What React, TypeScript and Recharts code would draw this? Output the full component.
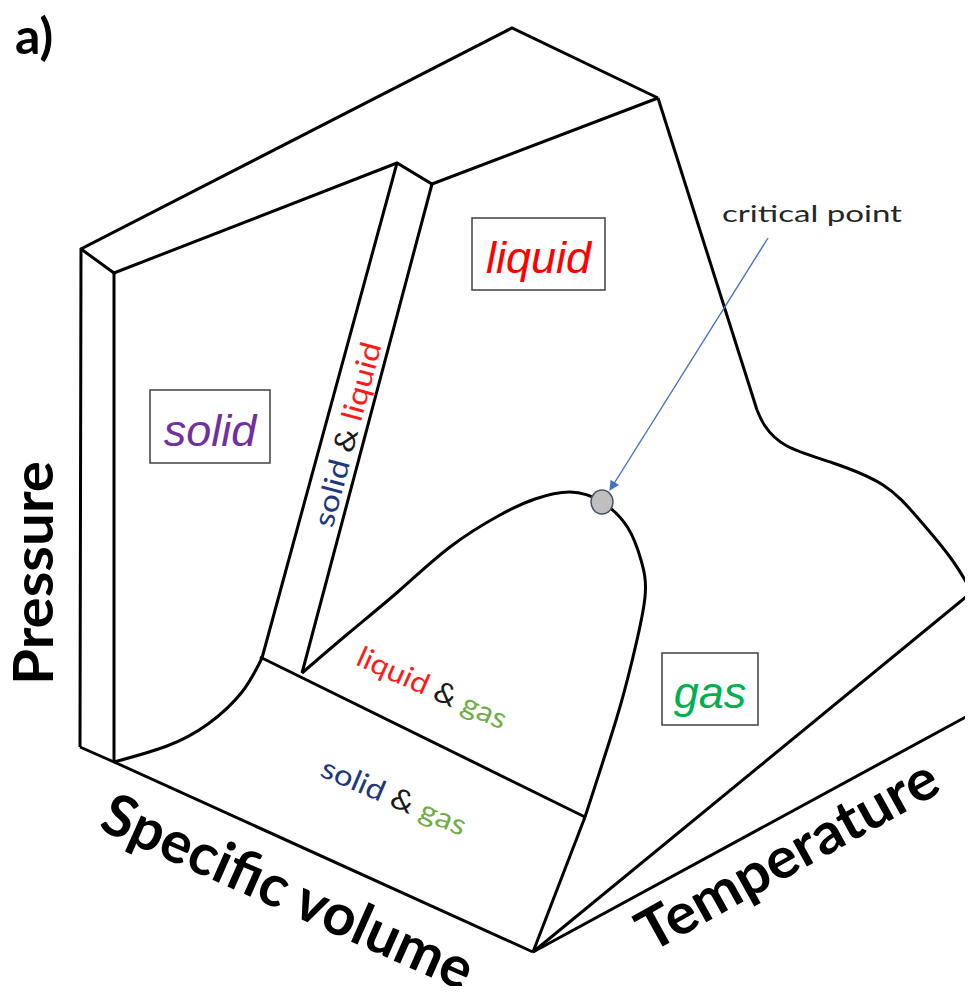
import { ComposedChart, Line, Scatter, XAxis, YAxis, ReferenceArea } from 'recharts';

const W = 973;
const H = 994;

// edges of the P-v-T surface (x right, y down)
const backRidge = [{ x: 80, y: 747 }, { x: 81, y: 249 }, { x: 512, y: 28 }, { x: 658, y: 98 }];
const frontRidge = [{ x: 81, y: 249 }, { x: 114, y: 273 }, { x: 397, y: 163 }, { x: 432, y: 184 }, { x: 658, y: 98 }];
const solidFace = [{ x: 114, y: 273 }, { x: 114, y: 762 }];
const volumeEdge = [{ x: 80, y: 747 }, { x: 114, y: 762 }, { x: 533, y: 952 }];
const meltingLine = [{ x: 397, y: 163 }, { x: 262, y: 658 }];
const freezingLine = [{ x: 432, y: 184 }, { x: 302, y: 673 }];
const solidCurve = [{ x: 262, y: 658 }, { x: 242, y: 692 }, { x: 208, y: 724 }, { x: 167, y: 746 }, { x: 114, y: 762 }];
const tripleLine = [{ x: 260, y: 657 }, { x: 585, y: 817 }];
const dome = [
  { x: 302, y: 673 }, { x: 350, y: 632 }, { x: 400, y: 590 }, { x: 450, y: 547 }, { x: 500, y: 515 },
  { x: 535, y: 499 }, { x: 570, y: 492 }, { x: 602, y: 502 }, { x: 628, y: 528 }, { x: 641, y: 560 },
  { x: 645, y: 597 }, { x: 633, y: 657 }, { x: 617, y: 717 }, { x: 585, y: 817 },
];
const gasEdge = [{ x: 585, y: 817 }, { x: 533, y: 952 }];
const vaporLine = [{ x: 658, y: 98 }, { x: 757, y: 410 }];
const vaporCurve = [
  { x: 757, y: 410 }, { x: 765, y: 426 }, { x: 787, y: 446 }, { x: 833, y: 463 }, { x: 883, y: 485 },
  { x: 917, y: 517 }, { x: 950, y: 557 }, { x: 972, y: 592 },
];
const tempUpper = [{ x: 533, y: 952 }, { x: 972, y: 592 }];
const tempLower = [{ x: 533, y: 952 }, { x: 973, y: 713 }];
const tempSide = [{ x: 972, y: 592 }, { x: 972, y: 713 }];

const criticalPoint = [{ x: 602, y: 502 }];
const pointer = [{ x: 768, y: 238 }, { x: 610, y: 490 }];

const phaseBoxes = [
  { name: 'solid', x1: 150, x2: 270, y1: 390, y2: 463 },
  { name: 'liquid', x1: 472, x2: 605, y1: 218, y2: 290 },
  { name: 'gas', x1: 662, x2: 758, y1: 653, y2: 725 },
];

const mixtures = [
  { x: 357, y: 437, phases: ['solid', 'liquid'] },
  { x: 428, y: 697, phases: ['liquid', 'gas'] },
  { x: 390, y: 806, phases: ['solid', 'gas'] },
];

const titles = [
  { id: 'panel', x: 15, y: 54, text: 'a)' },
  { id: 'pressure', x: 53, y: 573, text: 'Pressure' },
  { id: 'volume', x: 280, y: 910, text: 'Specific volume' },
  { id: 'temperature', x: 797, y: 872, text: 'Temperature' },
  { id: 'critical', x: 722, y: 222, text: 'critical point' },
];

const boxColor: Record<string, string> = { solid: '#7030a0', liquid: '#ff0000', gas: '#00b050' };
const mixColor: Record<string, string> = { solid: '#1f3a7a', liquid: '#ff1a1a', gas: '#70ad47', '&': '#1a1a1a' };
const mixLook = [
  { angle: -75, length: 190 },
  { angle: 24, length: 161 },
  { angle: 23, length: 155 },
];
const titleLook: Record<string, any> = {
  panel: { angle: 0, size: 50, weight: 700, anchor: 'start', fill: '#000' },
  pressure: { angle: -90, size: 56, weight: 700, anchor: 'middle', fill: '#000', length: 224 },
  volume: { angle: 24, size: 58, weight: 700, anchor: 'middle', fill: '#000', length: 400 },
  temperature: { angle: -29, size: 57, weight: 700, anchor: 'middle', fill: '#000', length: 335 },
  critical: { angle: 0, size: 23, weight: 400, anchor: 'start', fill: '#262626', length: 180 },
};

const edges = [backRidge, frontRidge, solidFace, volumeEdge, meltingLine, freezingLine, tripleLine, gasEdge, vaporLine, tempUpper, tempLower, tempSide];
const curves = [solidCurve, dome, vaporCurve];

function TitleShape(p: any) {
  const look = titleLook[p.payload.id];
  return (
    <text
      x={p.cx}
      y={p.cy}
      transform={`rotate(${look.angle} ${p.cx} ${p.cy})`}
      fontFamily="Lato, 'Open Sans', sans-serif"
      fontSize={look.size}
      fontWeight={look.weight}
      fill={look.fill}
      textAnchor={look.anchor}
      textLength={look.length}
      lengthAdjust={look.length ? 'spacingAndGlyphs' : undefined}
    >
      {p.payload.text}
    </text>
  );
}

function MixtureShape(p: any) {
  const look = mixLook[p.index] || mixLook[0];
  const [a, b] = p.payload.phases;
  return (
    <text
      x={p.cx}
      y={p.cy}
      transform={`rotate(${look.angle} ${p.cx} ${p.cy})`}
      fontFamily="Lato, 'Open Sans', sans-serif"
      fontSize={29}
      textAnchor="middle"
      textLength={look.length}
      lengthAdjust="spacingAndGlyphs"
    >
      <tspan fill={mixColor[a]}>{a} </tspan>
      <tspan fill={mixColor['&']}>&amp; </tspan>
      <tspan fill={mixColor[b]}>{b}</tspan>
    </text>
  );
}

function boxLabel(name: string) {
  return (props: any) => {
    const { x, y, width, height } = props.viewBox;
    return (
      <text
        x={x + width / 2}
        y={y + height * 0.765}
        textAnchor="middle"
        fontFamily="'Liberation Sans', Arial, sans-serif"
        fontStyle="italic"
        fontSize={45}
        fill={boxColor[name]}
      >
        {name}
      </text>
    );
  };
}

export default function App() {
  return (
    <div style={{ margin: -8, width: W, height: H, background: '#fff' }}>
      <ComposedChart width={W} height={H} margin={{ top: 0, right: 0, bottom: 0, left: 0 }}>
        <defs>
          <marker id="arrowHead" viewBox="0 0 10 10" refX="9" refY="5" markerUnits="userSpaceOnUse" markerWidth="12" markerHeight="10" orient="auto">
            <path d="M0,0 L10,5 L0,10 z" fill="#4472c4" />
          </marker>
        </defs>
        <XAxis type="number" dataKey="x" domain={[0, W]} allowDataOverflow hide />
        <YAxis type="number" dataKey="y" domain={[0, H]} allowDataOverflow reversed hide />
        {edges.map((d, i) => (
          <Line key={'e' + i} data={d} dataKey="y" type="linear" stroke="#000" strokeWidth={3} dot={false} activeDot={false} isAnimationActive={false} />
        ))}
        {curves.map((d, i) => (
          <Line key={'c' + i} data={d} dataKey="y" type="natural" stroke="#000" strokeWidth={3} dot={false} activeDot={false} isAnimationActive={false} />
        ))}
        <Line data={pointer} dataKey="y" type="linear" stroke="#4472c4" strokeWidth={1.4} dot={false} activeDot={false} markerEnd="url(#arrowHead)" isAnimationActive={false} />
        {phaseBoxes.map((b) => (
          <ReferenceArea key={b.name} x1={b.x1} x2={b.x2} y1={b.y1} y2={b.y2} fill="#fff" fillOpacity={1} stroke="#404040" strokeWidth={1.5} label={boxLabel(b.name)} />
        ))}
        <Scatter data={criticalPoint} isAnimationActive={false}
          shape={(p: any) => <ellipse cx={p.cx} cy={p.cy} rx={11} ry={12} fill="#bfbfbf" stroke="#44546a" strokeWidth={1.5} />} />
        <Scatter data={mixtures} isAnimationActive={false} shape={(p: any) => <MixtureShape {...p} />} />
        <Scatter data={titles} isAnimationActive={false} shape={(p: any) => <TitleShape {...p} />} />
      </ComposedChart>
    </div>
  );
}
